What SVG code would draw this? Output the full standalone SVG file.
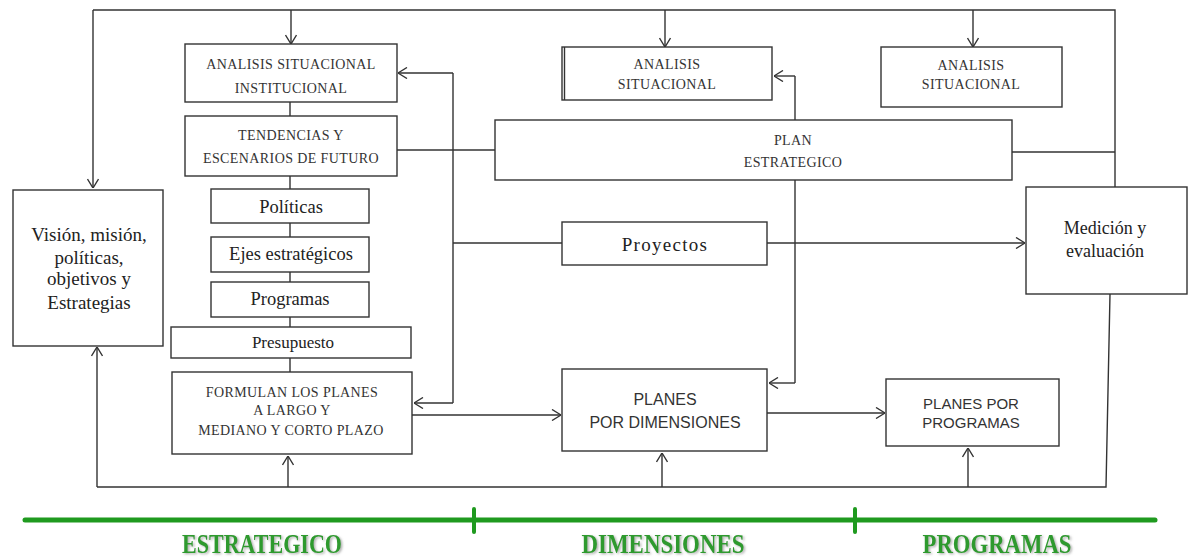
<svg xmlns="http://www.w3.org/2000/svg" width="1189" height="559" viewBox="0 0 1189 559">
<style>
.box{fill:#fff;stroke:#333;stroke-width:1.4}
.ln{fill:none;stroke:#333;stroke-width:1.4}
.arr{fill:none;stroke:#333;stroke-width:1.4;marker-end:url(#ah)}
.caps{font-family:"Liberation Serif",serif;font-size:14px;fill:#333;text-anchor:middle;letter-spacing:0.4px}
.ser{font-family:"Liberation Serif",serif;font-size:18.5px;fill:#222;text-anchor:middle}
.sans{font-family:"Liberation Sans",Arial,sans-serif;fill:#333;text-anchor:middle}
.grn{fill:none;stroke:#1f9a1f;stroke-width:5;stroke-linecap:round}
.lab{font-family:"Liberation Serif",serif;font-weight:bold;font-size:27px;fill:#2f9a2f;text-anchor:middle;filter:url(#sh)}
</style>
<defs>
<marker id="ah" viewBox="0 0 10 12" refX="10" refY="6" markerWidth="10" markerHeight="12" markerUnits="userSpaceOnUse" orient="auto">
<path d="M1,0.5 L10,6 L1,11.5" fill="none" stroke="#333" stroke-width="1.4"/>
</marker>
<filter id="sh" x="-10%" y="-20%" width="130%" height="140%">
<feDropShadow dx="1.5" dy="1.2" stdDeviation="0.8" flood-color="#777" flood-opacity="0.6"/>
</filter>
</defs>

<g id="connectors">
<path class="ln" d="M93,10 H1115 V187"/>
<path class="arr" d="M93,10 V188"/>
<path class="arr" d="M291,10 V44"/>
<path class="arr" d="M665,10 V47"/>
<path class="arr" d="M973,10 V47"/>
<path class="ln" d="M1012,152 H1115"/>
<path class="ln" d="M397,150 H495"/>
<path class="ln" d="M290,102 V116 M290,176 V189 M290,223 V237 M290,272 V282 M290,317 V327 M290,358 V372"/>
<path class="ln" d="M453,73 V403 M453,243 H562"/>
<path class="arr" d="M453,73 H398"/>
<path class="arr" d="M453,403 H414"/>
<path class="ln" d="M795,76 V383"/>
<path class="arr" d="M795,76 H774"/>
<path class="arr" d="M795,383 H769"/>
<path class="arr" d="M767,243 H1025"/>
<path class="arr" d="M412,415 H561"/>
<path class="arr" d="M767,413 H885"/>
<path class="ln" d="M1110,294 L1106,487 H97"/>
<path class="arr" d="M97,487 V347"/>
<path class="arr" d="M288,487 V456"/>
<path class="arr" d="M662,487 V453"/>
<path class="arr" d="M968,487 V448"/>
</g>

<g id="n-analisis-inst">
<rect class="box" x="185" y="44" width="212" height="58"/>
<text class="caps" x="291" y="69">ANALISIS SITUACIONAL</text>
<text class="caps" x="291" y="93">INSTITUCIONAL</text>
</g>
<g id="n-tendencias">
<rect class="box" x="185" y="116" width="212" height="60"/>
<text class="caps" x="291" y="140">TENDENCIAS Y</text>
<text class="caps" x="291" y="163">ESCENARIOS DE FUTURO</text>
</g>
<g id="n-analisis-mid">
<rect class="box" x="562" y="47" width="210" height="53"/>
<line class="ln" x1="564.5" y1="47" x2="564.5" y2="100"/>
<text class="caps" x="667" y="69">ANALISIS</text>
<text class="caps" x="667" y="89">SITUACIONAL</text>
</g>
<g id="n-analisis-right">
<rect class="box" x="881" y="47" width="181" height="60"/>
<text class="caps" x="971" y="70">ANALISIS</text>
<text class="caps" x="971" y="89">SITUACIONAL</text>
</g>
<g id="n-plan">
<rect class="box" x="495" y="120" width="517" height="60"/>
<text class="caps" x="793" y="145">PLAN</text>
<text class="caps" x="793" y="167">ESTRATEGICO</text>
</g>
<g id="n-vision">
<rect class="box" x="13" y="190" width="150" height="156"/>
<text class="ser" x="89" y="241" style="font-size:19px">Visión, misión,</text>
<text class="ser" x="89" y="264" style="font-size:19px">políticas,</text>
<text class="ser" x="89" y="285" style="font-size:19px">objetivos y</text>
<text class="ser" x="89" y="309" style="font-size:19px">Estrategias</text>
</g>
<g id="n-politicas">
<rect class="box" x="211" y="189" width="158" height="34"/>
<text class="ser" x="291" y="213">Políticas</text>
</g>
<g id="n-ejes">
<rect class="box" x="211" y="237" width="158" height="35"/>
<text class="ser" x="291" y="260">Ejes estratégicos</text>
</g>
<g id="n-programas">
<rect class="box" x="211" y="282" width="158" height="35"/>
<text class="ser" x="290" y="305">Programas</text>
</g>
<g id="n-presupuesto">
<rect class="box" x="171" y="327" width="240" height="31"/>
<text class="ser" x="293" y="348" style="font-size:17px">Presupuesto</text>
</g>
<g id="n-formulan">
<rect class="box" x="172" y="372" width="240" height="82"/>
<text class="caps" x="292" y="397">FORMULAN LOS PLANES</text>
<text class="caps" x="292" y="415">A LARGO Y</text>
<text class="caps" x="291" y="435">MEDIANO Y CORTO PLAZO</text>
</g>
<g id="n-proyectos">
<rect class="box" x="562" y="222" width="205" height="43"/>
<text class="ser" x="665" y="251" style="font-size:19px;letter-spacing:1.3px">Proyectos</text>
</g>
<g id="n-medicion">
<rect class="box" x="1026" y="187" width="161" height="107"/>
<text class="ser" x="1105" y="234" style="font-size:18px">Medición y</text>
<text class="ser" x="1105" y="257" style="font-size:18px">evaluación</text>
</g>
<g id="n-planes-dim">
<rect class="box" x="562" y="369" width="205" height="82"/>
<text class="sans" x="665" y="405" style="font-size:16px">PLANES</text>
<text class="sans" x="665" y="428" style="font-size:16px">POR DIMENSIONES</text>
</g>
<g id="n-planes-prog">
<rect class="box" x="886" y="379" width="173" height="67"/>
<text class="sans" x="971" y="409" style="font-size:15px">PLANES POR</text>
<text class="sans" x="971" y="428" style="font-size:15px">PROGRAMAS</text>
</g>

<g id="timeline">
<path class="grn" d="M25,520 H1155"/>
<path class="grn" d="M474,509 V532 M855,509 V532" style="stroke-width:4"/>
<text class="lab" x="262" y="553" textLength="160" lengthAdjust="spacingAndGlyphs">ESTRATEGICO</text>
<text class="lab" x="663" y="553" textLength="163" lengthAdjust="spacingAndGlyphs">DIMENSIONES</text>
<text class="lab" x="997" y="553" textLength="149" lengthAdjust="spacingAndGlyphs">PROGRAMAS</text>
</g>
</svg>
